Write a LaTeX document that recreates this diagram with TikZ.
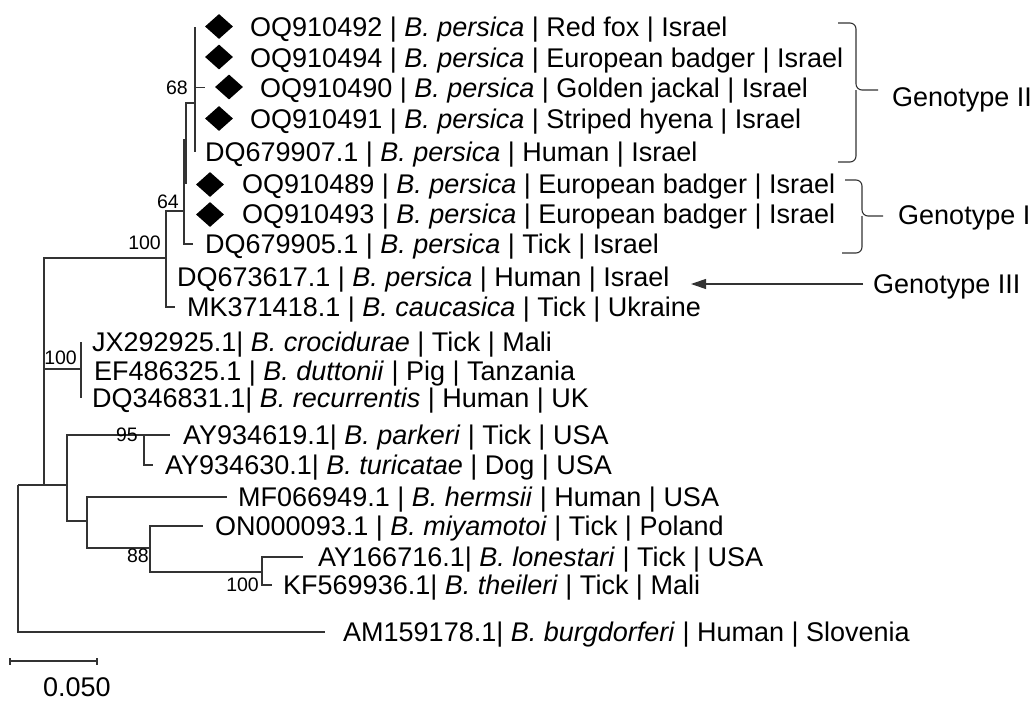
\documentclass[tikz,border=0pt]{standalone}
\usepackage{fontspec}
\setmainfont{Liberation Sans}
\usetikzlibrary{arrows.meta,shapes.geometric}
\begin{document}
\begin{tikzpicture}[x=1pt,y=-1pt,
  br/.style={draw=black!80, line width=1.1pt},
  lab/.style={anchor=base west, inner sep=0pt, font=\fontsize{27pt}{30pt}\selectfont},
  bs/.style={anchor=east, inner sep=0pt, font=\fontsize{19.5pt}{22pt}\selectfont},
  dia/.style={diamond, fill=black, inner sep=0pt, minimum width=28pt, minimum height=25pt},
  brace/.style={draw=black!80, line width=1.1pt, rounded corners=6pt}]
\useasboundingbox (0,0) rectangle (1033,701);
% internal nodes
\coordinate (R) at (18,485);
\coordinate (A) at (44,485);
\coordinate (P) at (166,258);
\coordinate (Q) at (184,211);
\coordinate (T) at (186,140);
\coordinate (S) at (195,103);
\coordinate (C) at (81,369);
\coordinate (D) at (67,485);
\coordinate (E) at (144,435);
\coordinate (F) at (87,521);
\coordinate (G) at (150,548);
\coordinate (H) at (262,572);
% tips
\coordinate (t1) at (195,27.5);
\coordinate (t2) at (195,57.5);
\coordinate (t3) at (205,87.5);
\coordinate (t4) at (195,119);
\coordinate (t5) at (195,152);
\coordinate (t6) at (186,184);
\coordinate (t7) at (186,214);
\coordinate (t8) at (193,244);
\coordinate (t9) at (166,277);
\coordinate (t10) at (175,307);
\coordinate (t11) at (81,341.5);
\coordinate (t12) at (81,371);
\coordinate (t13) at (81,397.5);
\coordinate (t14) at (170,435);
\coordinate (t15) at (153,465);
\coordinate (t16) at (227,497);
\coordinate (t17) at (203,526);
\coordinate (t18) at (303,557);
\coordinate (t19) at (272,585);
\coordinate (t20) at (325,632);
% branches
\draw[br] (R) |- (A);
\draw[br] (R) |- (t20);
\draw[br] (A) |- (P);
\draw[br] (A) |- (C);
\draw[br] (A) |- (D);
\draw[br] (P) |- (Q);
\draw[br] (P) |- (t9);
\draw[br] (P) |- (t10);
\draw[br] (Q) |- (T);
\draw[br] (Q) |- (t8);
\draw[br] (T) |- (S);
\draw[br] (T) |- (t6);
\draw[br] (S) |- (t1);
\draw[br] (S) |- (t2);
\draw[br] (S) |- (t3);
\draw[br] (S) |- (t4);
\draw[br] (S) |- (t5);
\draw[br] (C) |- (t11);
\draw[br] (C) |- (t13);
\draw[br] (D) |- (E);
\draw[br] (D) |- (F);
\draw[br] (E) |- (t14);
\draw[br] (E) |- (t15);
\draw[br] (F) |- (t16);
\draw[br] (F) |- (G);
\draw[br] (G) |- (t17);
\draw[br] (G) |- (H);
\draw[br] (H) |- (t18);
\draw[br] (H) |- (t19);
% bootstrap values
\node[bs] (b68) at (188,87.5) {68};
\node[bs] (b64) at (179,201.5) {64};
\node[bs] (b100a) at (161,242.5) {100};
\node[bs] (b100b) at (77,357.5) {100};
\node[bs] (b95) at (138,434.5) {95};
\node[bs] (b88) at (149,555.5) {88};
\node[bs] (b100c) at (259,584.5) {100};
% diamonds
\node[dia] (d1) at (219,26.5) {};
\node[dia] (d2) at (219,57) {};
\node[dia] (d3) at (229,87) {};
\node[dia] (d4) at (219,118.5) {};
\node[dia] (d6) at (210,184.5) {};
\node[dia] (d7) at (210,214.5) {};
% labels
\node[lab] (l1) at (250,37) {OQ910492 | \textit{B. persica} | Red fox | Israel};
\node[lab] (l2) at (250,67) {OQ910494 | \textit{B. persica} | European badger | Israel};
\node[lab] (l3) at (260,97) {OQ910490 | \textit{B. persica} | Golden jackal | Israel};
\node[lab] (l4) at (250,128.5) {OQ910491 | \textit{B. persica} | Striped hyena | Israel};
\node[lab] (l5) at (205,161.5) {DQ679907.1 | \textit{B. persica} | Human | Israel};
\node[lab] (l6) at (242,193.5) {OQ910489 | \textit{B. persica} | European badger | Israel};
\node[lab] (l7) at (242,223.5) {OQ910493 | \textit{B. persica} | European badger | Israel};
\node[lab] (l8) at (205,253.5) {DQ679905.1 | \textit{B. persica} | Tick | Israel};
\node[lab] (l9) at (177,286.5) {DQ673617.1 | \textit{B. persica} | Human | Israel};
\node[lab] (l10) at (187,316.5) {MK371418.1 | \textit{B. caucasica} | Tick | Ukraine};
\node[lab] (l11) at (92,351) {JX292925.1| \textit{B. crocidurae} | Tick | Mali};
\node[lab] (l12) at (94,380.5) {EF486325.1 | \textit{B. duttonii} | Pig | Tanzania};
\node[lab] (l13) at (92,407) {DQ346831.1| \textit{B. recurrentis} | Human | UK};
\node[lab] (l14) at (183,444.5) {AY934619.1| \textit{B. parkeri} | Tick | USA};
\node[lab] (l15) at (165,474.5) {AY934630.1| \textit{B. turicatae} | Dog | USA};
\node[lab] (l16) at (238,506.5) {MF066949.1 | \textit{B. hermsii} | Human | USA};
\node[lab] (l17) at (215,535.5) {ON000093.1 | \textit{B. miyamotoi} | Tick | Poland};
\node[lab] (l18) at (318,566.5) {AY166716.1| \textit{B. lonestari} | Tick | USA};
\node[lab] (l19) at (283,594) {KF569936.1| \textit{B. theileri} | Tick | Mali};
\node[lab] (l20) at (343,641.5) {AM159178.1| \textit{B. burgdorferi} | Human | Slovenia};
% genotype brackets
\draw[brace] (838,23) -- (856,23) -- (856,90) -- (878,90);
\draw[brace] (838,162) -- (856,162) -- (856,90);
\draw[brace] (845,180) -- (862,180) -- (862,216) -- (883,216);
\draw[brace] (842,253) -- (862,253) -- (862,216);
\node[lab] (g2) at (892,106) {Genotype II};
\node[lab] (g1) at (898,224) {Genotype I};
\node[lab] (g3) at (873,293) {Genotype III};
\coordinate (g3a) at (863,284);
\coordinate (ar) at (691,284);
\draw[br, -{Triangle[length=15pt,width=10pt]}] (g3a) -- (ar);
% scale bar
\coordinate (s1) at (10,661);
\coordinate (s2) at (97,661);
\draw[br] (s1) -- (s2);
\draw[br] ([yshift=-3.5pt]s1) -- ([yshift=3.5pt]s1);
\draw[br] ([yshift=-3.5pt]s2) -- ([yshift=3.5pt]s2);
\node[lab] (sl) at (43,696) {0.050};
\end{tikzpicture}
\end{document}
